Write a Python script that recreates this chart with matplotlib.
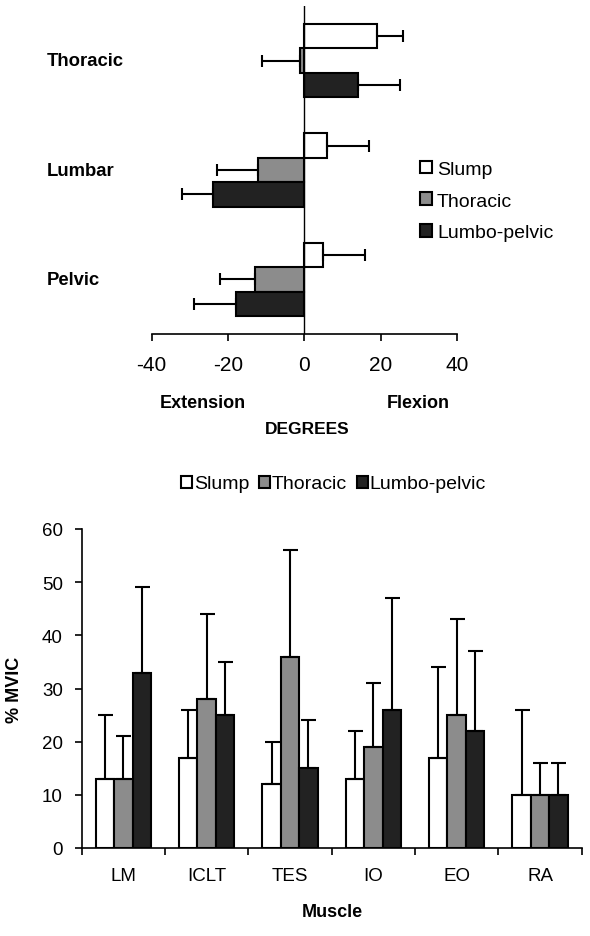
import numpy as np
import matplotlib
matplotlib.use("Agg")
import matplotlib.pyplot as plt
import matplotlib.transforms as mtransforms

plt.rcParams['font.family'] = ['Liberation Sans', 'DejaVu Sans']
plt.rcParams['axes.unicode_minus'] = False

# ---- top chart: spinal angles (degrees) ----
regions = ['Thoracic', 'Lumbar', 'Pelvic']
conditions = ['Slump', 'Thoracic', 'Lumbo-pelvic']
angle_slump = [19, 6, 5]
angle_slump_sd = [7, 11, 11]
angle_thoracic = [-1, -12, -13]
angle_thoracic_sd = [10, 11, 9]
angle_lumbo = [14, -24, -18]
angle_lumbo_sd = [11, 8, 11]

# ---- bottom chart: muscle activity (% MVIC) ----
muscles = ['LM', 'ICLT', 'TES', 'IO', 'EO', 'RA']
mvic_slump = [13, 17, 12, 13, 17, 10]
mvic_slump_sd = [12, 9, 8, 9, 17, 16]
mvic_thoracic = [13, 28, 36, 19, 25, 10]
mvic_thoracic_sd = [8, 16, 20, 12, 18, 6]
mvic_lumbo = [33, 25, 15, 26, 22, 10]
mvic_lumbo_sd = [16, 10, 9, 21, 15, 6]

colors = ['white', '#8c8c8c', '#222222']
W, H = 590, 937

fig = plt.figure(figsize=(W / 100, H / 100), dpi=100)

# ---------------- top ----------------
ax1 = fig.add_axes([151.7 / W, 1 - 335 / H, (456.8 - 151.7) / W, (335 - 7) / H])
ypos = np.arange(len(regions))
h = 0.224
top_series = [(angle_slump, angle_slump_sd), (angle_thoracic, angle_thoracic_sd),
              (angle_lumbo, angle_lumbo_sd)]
for i, (vals, sds) in enumerate(top_series):
    vals = np.array(vals, dtype=float)
    sds = np.array(sds, dtype=float)
    y = ypos + (i - 1) * h
    ax1.barh(y, vals, height=h, color=colors[i], edgecolor='black', linewidth=1.5,
             label=conditions[i], zorder=2)
    lo = np.where(vals < 0, sds, 0)
    hi = np.where(vals >= 0, sds, 0)
    ax1.errorbar(vals, y, xerr=[lo, hi], fmt='none', ecolor='black', elinewidth=1.5,
                 capsize=4.3, capthick=1.5, zorder=3)

ax1.set_xlim(-40, 40)
ax1.set_ylim(2.5, -0.5)
ax1.axvline(0, color='black', linewidth=1.0, zorder=4)
for s in ['top', 'right', 'left']:
    ax1.spines[s].set_visible(False)
ax1.spines['bottom'].set_linewidth(1.2)
ax1.set_yticks([])
ax1.set_xticks([-40, -20, 0, 20, 40])
ax1.tick_params(axis='x', direction='out', length=5, width=1.2, pad=10, labelsize=15)

tr = mtransforms.blended_transform_factory(fig.transFigure, ax1.transData)
for k, name in enumerate(regions):
    ax1.text(47 / W, k, name, transform=tr, ha='left', va='center',
             fontsize=13.3, fontweight='bold')

fig.text(203 / W, 1 - 403 / H, 'Extension', ha='center', va='center',
         fontsize=13, fontweight='bold')
fig.text(418 / W, 1 - 403 / H, 'Flexion', ha='center', va='center',
         fontsize=13, fontweight='bold')
fig.text(307 / W, 1 - 430 / H, 'DEGREES', ha='center', va='center',
         fontsize=12.5, fontweight='bold')

fig.legend(*ax1.get_legend_handles_labels(), loc='center left',
           bbox_to_anchor=(420 / W, 1 - 202 / H), frameon=False, fontsize=14,
           handlelength=0.62, handleheight=0.62, handletextpad=0.25,
           labelspacing=0.75, borderpad=0, borderaxespad=0)

# ---------------- bottom ----------------
ax2 = fig.add_axes([81.7 / W, 1 - 849 / H, (581.7 - 81.7) / W, (849 - 530) / H])
xpos = np.arange(len(muscles))
w = 0.221
bot_series = [(mvic_slump, mvic_slump_sd), (mvic_thoracic, mvic_thoracic_sd),
              (mvic_lumbo, mvic_lumbo_sd)]
for i, (vals, sds) in enumerate(bot_series):
    x = xpos + (i - 1) * w
    ax2.bar(x, vals, width=w, color=colors[i], edgecolor='black', linewidth=1.5,
            label=conditions[i], zorder=2)
    ax2.errorbar(x, vals, yerr=[np.zeros(len(sds)), sds], fmt='none', ecolor='black',
                 elinewidth=1.5, capsize=5.4, capthick=1.5, zorder=3)

ax2.set_xlim(-0.5, len(muscles) - 0.5)
ax2.set_ylim(0, 60)
for s in ['top', 'right']:
    ax2.spines[s].set_visible(False)
ax2.spines['left'].set_linewidth(1.2)
ax2.spines['bottom'].set_linewidth(1.2)
ax2.set_yticks(np.arange(0, 61, 10))
ax2.tick_params(axis='y', direction='out', length=5, width=1.2, pad=8.5, labelsize=13.5)
ax2.set_xticks(np.arange(-0.5, len(muscles), 1.0))
ax2.set_xticklabels([])
ax2.set_xticks(xpos, minor=True)
ax2.set_xticklabels(muscles, minor=True)
ax2.tick_params(axis='x', which='major', direction='out', length=5, width=1.2)
ax2.tick_params(axis='x', which='minor', length=0, pad=14, labelsize=13.5)

ax2.set_ylabel('% MVIC', fontsize=13, fontweight='bold', va='center')
ax2.yaxis.set_label_coords((15 - 81.7) / 500, 0.5)
fig.text(332 / W, 1 - 913 / H, 'Muscle', ha='center', va='center',
         fontsize=13, fontweight='bold')

fig.legend(*ax2.get_legend_handles_labels(), loc='center', ncol=3,
           bbox_to_anchor=(333.5 / W, 1 - 485 / H), frameon=False, fontsize=14,
           handlelength=0.58, handleheight=0.58, handletextpad=0.08,
           columnspacing=0.5, borderpad=0, borderaxespad=0)

fig.savefig('out.png', dpi=100)
